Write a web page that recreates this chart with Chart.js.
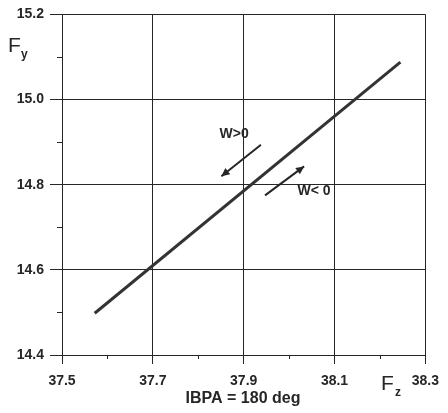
<!DOCTYPE html>
<html>
<head>
<meta charset="utf-8">
<script src="https://cdn.jsdelivr.net/npm/chart.js@4"></script>
<style>
  html, body { margin: 0; padding: 0; background: #fff; }
  #wrap { width: 448px; height: 413px; position: relative; }
</style>
</head>
<body>
<div id="wrap"><canvas id="c"></canvas></div>
<script>
// data
var lineX = [37.572, 38.245];
var lineY = [14.498, 15.088];
var xTicks = [37.5, 37.7, 37.9, 38.1, 38.3];
var yTicks = [14.4, 14.6, 14.8, 15.0, 15.2];
var xMinor = [37.6, 37.8, 38.0, 38.2];
var yMinor = [14.5, 14.7, 14.9, 15.1];
// arrows [x0, y0, x1, y1] in data units, head at x1,y1
var arrowDown = [37.938, 14.894, 37.851, 14.820];
var arrowUp = [37.947, 14.775, 38.033, 14.843];
var labelDown = [37.879, 14.918, 'W>0'];
var labelUp = [38.055, 14.786, 'W< 0'];

var ink = '#262626';
var fontFam = '"Liberation Sans", Arial, sans-serif';

var annot = {
  id: 'annot',
  afterDraw: function (chart) {
    var ctx = chart.ctx;
    var xs = chart.scales.x, ys = chart.scales.y;
    var area = chart.chartArea;
    ctx.save();
    ctx.strokeStyle = ink;
    ctx.fillStyle = ink;
    ctx.lineWidth = 1;
    // minor ticks
    yMinor.forEach(function (v) {
      var py = Math.round(ys.getPixelForValue(v)) + 0.5;
      ctx.beginPath(); ctx.moveTo(area.left - 5, py); ctx.lineTo(area.left, py); ctx.stroke();
    });
    xMinor.forEach(function (v) {
      var px = Math.round(xs.getPixelForValue(v)) + 0.5;
      ctx.beginPath(); ctx.moveTo(px, area.bottom); ctx.lineTo(px, area.bottom + 4); ctx.stroke();
    });
    // arrows
    [arrowDown, arrowUp].forEach(function (a) {
      var x0 = xs.getPixelForValue(a[0]), y0 = ys.getPixelForValue(a[1]);
      var x1 = xs.getPixelForValue(a[2]), y1 = ys.getPixelForValue(a[3]);
      ctx.lineWidth = 2;
      ctx.beginPath(); ctx.moveTo(x0, y0); ctx.lineTo(x1, y1); ctx.stroke();
      var ang = Math.atan2(y1 - y0, x1 - x0);
      var hl = 9, hw = 0.45;
      ctx.beginPath();
      ctx.moveTo(x1, y1);
      ctx.lineTo(x1 - hl * Math.cos(ang - hw), y1 - hl * Math.sin(ang - hw));
      ctx.lineTo(x1 - hl * Math.cos(ang + hw), y1 - hl * Math.sin(ang + hw));
      ctx.closePath(); ctx.fill();
    });
    // labels
    ctx.font = 'bold 14px ' + fontFam;
    ctx.textAlign = 'center';
    ctx.textBaseline = 'middle';
    [labelDown, labelUp].forEach(function (l) {
      ctx.fillText(l[2], xs.getPixelForValue(l[0]), ys.getPixelForValue(l[1]));
    });
    // axis titles
    ctx.textAlign = 'left';
    ctx.textBaseline = 'alphabetic';
    ctx.font = '21px ' + fontFam;
    ctx.fillText('F', 8, 52);
    ctx.font = 'bold 12px ' + fontFam;
    ctx.fillText('y', 21, 58);
    ctx.font = '21px ' + fontFam;
    ctx.fillText('F', 381, 390);
    ctx.font = 'bold 12px ' + fontFam;
    ctx.fillText('z', 395, 396);
    ctx.font = 'bold 16px ' + fontFam;
    ctx.textAlign = 'center';
    ctx.fillText('IBPA = 180 deg', 243, 403);
    ctx.restore();
  }
};

new Chart(document.getElementById('c'), {
  type: 'scatter',
  data: {
    datasets: [{
      data: lineX.map(function (x, i) { return { x: x, y: lineY[i] }; }),
      showLine: true,
      borderColor: '#333',
      borderWidth: 3,
      pointRadius: 0
    }]
  },
  options: {
    responsive: true,
    maintainAspectRatio: false,
    animation: false,
    layout: { padding: { left: 0, top: 13, right: 21, bottom: 0 } },
    plugins: { legend: { display: false }, tooltip: { enabled: false } },
    scales: {
      x: {
        type: 'linear', min: 37.5, max: 38.3,
        afterFit: function (s) { s.height = 58; },
        afterBuildTicks: function (s) { s.ticks = xTicks.map(function (v) { return { value: v }; }); },
        ticks: {
          color: ink, padding: 9,
          font: { family: fontFam, size: 14, weight: 'bold' },
          callback: function (v) { return v.toFixed(1); }
        },
        grid: { color: ink, lineWidth: 1, tickLength: 9 },
        border: { color: ink, width: 1 }
      },
      y: {
        type: 'linear', min: 14.4, max: 15.2,
        afterFit: function (s) { s.width = 62; },
        afterBuildTicks: function (s) { s.ticks = yTicks.map(function (v) { return { value: v }; }); },
        ticks: {
          color: ink, padding: 6,
          font: { family: fontFam, size: 14, weight: 'bold' },
          callback: function (v) { return v.toFixed(1); }
        },
        grid: { color: ink, lineWidth: 1, tickLength: 12 },
        border: { color: ink, width: 1 }
      }
    }
  },
  plugins: [annot]
});
</script>
</body>
</html>
